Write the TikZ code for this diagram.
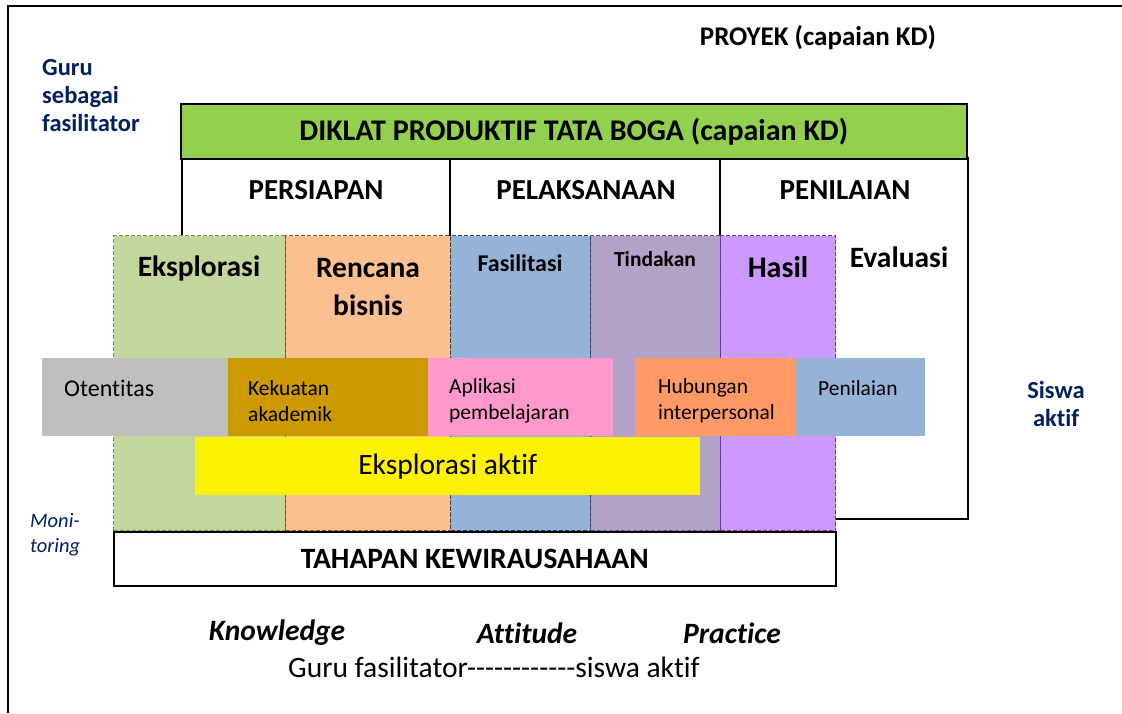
\documentclass[tikz,border=0pt]{standalone}
\usepackage{fontspec}
\setmainfont{Carlito}[Ligatures={TeXOff,NoCommon}]
\usetikzlibrary{calc}
\definecolor{BarClr}{HTML}{92D050}
\definecolor{SideClr}{HTML}{002060}
\definecolor{EksplClr}{HTML}{C3D69B}
\definecolor{EksplLn}{HTML}{77933C}
\definecolor{RencClr}{HTML}{FAC090}
\definecolor{RencLn}{HTML}{984807}
\definecolor{FasilClr}{HTML}{95B3D7}
\definecolor{FasilLn}{HTML}{254061}
\definecolor{TindClr}{HTML}{B3A2C7}
\definecolor{TindLn}{HTML}{604A7B}
\definecolor{HasilClr}{HTML}{CC99FF}
\definecolor{HasilLn}{HTML}{7030A0}
\definecolor{OtenClr}{HTML}{BFBFBF}
\definecolor{KekuClr}{HTML}{CC9900}
\definecolor{AplikClr}{HTML}{FF99CC}
\definecolor{HubClr}{HTML}{FF9966}
\definecolor{PenilClr}{HTML}{95B3D7}

\begin{document}
\begin{tikzpicture}[x=1pt,y=-1pt,
  colbox/.style={draw,dash pattern=on 4pt off 2pt,line width=1pt,anchor=north west,inner sep=0pt},
  bandbox/.style={anchor=north west,inner sep=0pt,minimum height=78pt},
  tHead/.style={font=\bfseries\fontsize{29}{32}\selectfont},
  tCol/.style={font=\bfseries\fontsize{29.5}{38}\selectfont,align=center},
  tBand/.style={font=\fontsize{21.5}{26}\selectfont,align=left,anchor=west,inner sep=0pt},
  tSide/.style={font=\bfseries\fontsize{24.5}{28}\selectfont,text=SideClr}]
\useasboundingbox (0,0) rectangle (1122,713);
\draw[line width=1.5pt] (8,713) -- (8,6) -- (1122,6);

% top boxes
\draw[line width=1.5pt,fill=white] (182,300) -- (182,158) -- (450,158) -- (450,300);
\draw[line width=1.5pt] (450,158) -- (720,158) -- (720,300);
\draw[line width=1.5pt,fill=white] (720,158) rectangle (968,519);

% columns
\node[colbox,fill=EksplClr,draw=EksplLn,minimum width=172pt,minimum height=295pt] (eksp) at (113,235) {};
\node[colbox,fill=RencClr,draw=RencLn,minimum width=165pt,minimum height=295pt] (renc) at (285,235) {};
\node[colbox,fill=FasilClr,draw=FasilLn,minimum width=140pt,minimum height=295pt] (fasil) at (450,235) {};
\node[colbox,fill=TindClr,draw=TindLn,minimum width=130pt,minimum height=295pt] (tind) at (590,235) {};
\node[colbox,fill=HasilClr,draw=HasilLn,minimum width=115pt,minimum height=295pt] (hasil) at (720,235) {};

\node[draw,line width=1.5pt,fill=BarClr,anchor=north west,minimum width=786pt,minimum height=55pt,
  font=\bfseries\fontsize{30}{32}\selectfont] (diklat) at (180,103) {DIKLAT PRODUKTIF TATA BOGA (capaian KD)};

\node[tHead] (persiapan) at (316,190) {PERSIAPAN};
\node[tHead] (pelaksanaan) at (586,190) {PELAKSANAAN};
\node[tHead] (penilaian) at (845,190) {PENILAIAN};

\node[tCol] (tEksp) at (199,268) {Eksplorasi};
\node[tCol] (tRenc) at (368,287) {Rencana\\bisnis};
\node[tCol,font=\bfseries\fontsize{24}{28}\selectfont] (tFasil) at (520,263) {Fasilitasi};
\node[tCol,font=\bfseries\fontsize{21.5}{24}\selectfont] (tTind) at (655,259) {Tindakan};
\node[tCol,font=\bfseries\fontsize{30}{32}\selectfont] (tHasil) at (778,267) {Hasil};
\node[tCol] (tEval) at (899,257) {Evaluasi};

% band
\node[bandbox,fill=OtenClr,minimum width=186pt] (oten) at (42,358) {};
\node[bandbox,fill=KekuClr,minimum width=200pt] (keku) at (228,358) {};
\node[bandbox,fill=AplikClr,minimum width=185pt] (aplik) at (428,358) {};
\node[bandbox,fill=HubClr,minimum width=160pt] (hub) at (635,358) {};
\node[bandbox,fill=PenilClr,minimum width=130pt] (penil) at (795,358) {};

\node[tBand,font=\fontsize{24}{26}\selectfont] (tOten) at (64,388) {Otentitas};
\node[tBand] (tKeku) at (248,401) {Kekuatan\\akademik};
\node[tBand] (tAplik) at (449,401) {Aplikasi\\pembelajaran};
\node[tBand] (tHub) at (658,401) {Hubungan\\interpersonal};
\node[tBand] (tPenil) at (818,388) {Penilaian};

\node[fill=yellow,anchor=north west,minimum width=505pt,minimum height=58pt,
  font=\fontsize{29.5}{32}\selectfont] (aktif) at (195,437) {Eksplorasi aktif};

\node[draw,line width=1.5pt,fill=white,anchor=north west,minimum width=722pt,minimum height=54pt,
  font=\bfseries\fontsize{29.5}{32}\selectfont] (tahapan) at (113,531) {TAHAPAN KEWIRAUSAHAAN};

% side texts
\node[font=\bfseries\fontsize{27}{30}\selectfont] (proyek) at (818,38) {PROYEK (capaian KD)};
\node[tSide,align=left,anchor=west,inner sep=0pt] (guru) at (42,96) {Guru\\sebagai\\fasilitator};
\node[tSide,align=center] (siswa) at (1056,404) {Siswa\\aktif};
\node[font=\itshape\fontsize{20.5}{25}\selectfont,text=SideClr,align=left,anchor=west,inner sep=0pt] (monit) at (30,535) {Moni-\\toring};

\node[font=\bfseries\itshape\fontsize{29.5}{32}\selectfont] (know) at (277,633) {Knowledge};
\node[font=\bfseries\itshape\fontsize{29.5}{32}\selectfont] (att) at (527,633) {Attitude};
\node[font=\bfseries\itshape\fontsize{29.5}{32}\selectfont] (prac) at (732,633) {Practice};
\node[font=\fontsize{29.5}{32}\selectfont] (gurusiswa) at (494,667) {Guru fasilitator------------siswa aktif};

\end{tikzpicture}
\end{document}
